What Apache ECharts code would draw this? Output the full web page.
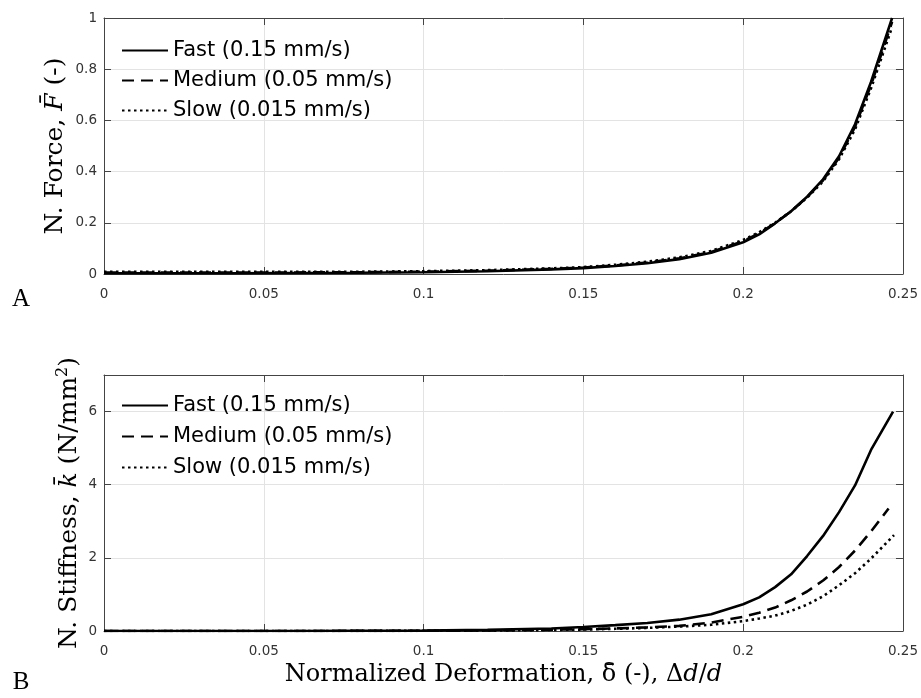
<!DOCTYPE html>
<html>
<head>
<meta charset="utf-8">
<script src="https://cdn.jsdelivr.net/npm/echarts@6/dist/echarts.min.js"></script>
<style>html,body{margin:0;padding:0;background:#fff}#c{width:921px;height:698px}</style>
</head>
<body>
<div id="c"></div>
<script>
// ---------- DATA ----------
const seriesNames = ['Fast (0.15 mm/s)', 'Medium (0.05 mm/s)', 'Slow (0.015 mm/s)'];
const xTicks = [0, 0.05, 0.1, 0.15, 0.2, 0.25];
const forceTicks = [0, 0.2, 0.4, 0.6, 0.8, 1];
const stiffTicks = [0, 2, 4, 6];

// Panel A: normalized force
const forceX = [0, 0.02, 0.04, 0.06, 0.08, 0.1, 0.12, 0.14, 0.15, 0.16, 0.17, 0.18, 0.19, 0.2, 0.205, 0.21, 0.215, 0.22, 0.225, 0.23, 0.235, 0.24, 0.2466];
const forceFast = [0.003, 0.003, 0.003, 0.004, 0.005, 0.007, 0.011, 0.018, 0.023, 0.031, 0.042, 0.058, 0.083, 0.124, 0.155, 0.198, 0.245, 0.302, 0.37, 0.46, 0.585, 0.75, 1.0];
const forceMedium = [0.006, 0.006, 0.006, 0.006, 0.007, 0.009, 0.013, 0.02, 0.025, 0.033, 0.045, 0.061, 0.086, 0.128, 0.159, 0.199, 0.245, 0.3, 0.366, 0.454, 0.575, 0.738, 0.985];
const forceSlow = [0.009, 0.009, 0.009, 0.009, 0.009, 0.011, 0.015, 0.022, 0.027, 0.036, 0.048, 0.065, 0.09, 0.133, 0.163, 0.2, 0.245, 0.298, 0.362, 0.448, 0.565, 0.725, 0.965];

// Panel B: normalized stiffness
const stiffXFast = [0, 0.02, 0.04, 0.06, 0.08, 0.1, 0.12, 0.14, 0.15, 0.16, 0.17, 0.18, 0.19, 0.2, 0.205, 0.21, 0.215, 0.22, 0.225, 0.23, 0.235, 0.24, 0.2469];
const stiffFast = [0, 0, 0, 0, 0.005, 0.01, 0.03, 0.07, 0.11, 0.16, 0.22, 0.31, 0.46, 0.73, 0.92, 1.2, 1.55, 2.05, 2.6, 3.25, 3.98, 4.95, 6.0];
const stiffXMedium = [0, 0.02, 0.04, 0.06, 0.08, 0.1, 0.12, 0.14, 0.15, 0.16, 0.17, 0.18, 0.19, 0.2, 0.205, 0.21, 0.215, 0.22, 0.225, 0.23, 0.235, 0.24, 0.2455];
const stiffMedium = [0, 0, 0, 0, 0.003, 0.006, 0.015, 0.035, 0.05, 0.07, 0.1, 0.14, 0.23, 0.39, 0.5, 0.64, 0.84, 1.08, 1.38, 1.75, 2.2, 2.72, 3.35];
const stiffXSlow = [0, 0.02, 0.04, 0.06, 0.08, 0.1, 0.12, 0.14, 0.15, 0.16, 0.17, 0.18, 0.19, 0.2, 0.205, 0.21, 0.215, 0.22, 0.225, 0.23, 0.235, 0.24, 0.2472];
const stiffSlow = [0, 0, 0, 0, 0.003, 0.005, 0.012, 0.028, 0.04, 0.06, 0.085, 0.12, 0.17, 0.27, 0.34, 0.42, 0.55, 0.72, 0.95, 1.25, 1.58, 1.98, 2.62];

// ---------- CHART ----------
const pair = (xs, ys) => xs.map((x, i) => [x, ys[i]]);
const fmt = v => String(+(+v).toFixed(3));
const tickFont = { fontFamily: 'DejaVu Sans', fontSize: 13.5, color: '#333' };
const serif = 'DejaVu Serif';
const richFor = size => ({
  i: { fontFamily: serif, fontStyle: 'italic', fontSize: size, color: '#000' },
  u: { fontFamily: serif, fontSize: size, color: '#000' },
  sup: { fontFamily: serif, fontSize: Math.round(size * 0.62), color: '#000', padding: [0, 0, 13, 0] }
});
const lineTypes = ['solid', [12, 7], [2.5, 3.5]];
const gridLine = { show: true, lineStyle: { color: '#e3e3e3', width: 1 } };

function mainX(gi, name) {
  return {
    type: 'value', gridIndex: gi, min: 0, max: 0.25, interval: 0.05, position: 'bottom',
    axisLine: { show: true, onZero: false, lineStyle: { color: '#444', width: 1 } },
    axisTick: { show: true, inside: true, length: 7, lineStyle: { color: '#444' } },
    axisLabel: Object.assign({ margin: 13, formatter: fmt }, tickFont),
    splitLine: gridLine,
    name: name || '', nameLocation: 'middle', nameGap: 32, nameMoveOverlap: false,
    nameTextStyle: { fontFamily: serif, fontSize: 24, color: '#000', rich: richFor(24) }
  };
}
function topX(gi) {
  return {
    type: 'value', gridIndex: gi, min: 0, max: 0.25, interval: 0.05, position: 'top',
    axisLine: { show: true, onZero: false, lineStyle: { color: '#444' } },
    axisTick: { show: true, inside: true, length: 7, lineStyle: { color: '#444' } },
    axisLabel: { show: false }, splitLine: { show: false }
  };
}
function mainY(gi, max, interval, name, gap) {
  return {
    type: 'value', gridIndex: gi, min: 0, max: max, interval: interval, position: 'left',
    axisLine: { show: true, onZero: false, lineStyle: { color: '#444' } },
    axisTick: { show: true, inside: true, length: 7, lineStyle: { color: '#444' } },
    axisLabel: Object.assign({ margin: 7, formatter: fmt, showMaxLabel: max !== 7 }, tickFont),
    splitLine: gridLine,
    name: name, nameLocation: 'middle', nameGap: gap, nameRotate: 90, nameMoveOverlap: false,
    nameTextStyle: { fontFamily: serif, fontSize: 25, color: '#000', rich: richFor(25) }
  };
}
function rightY(gi, max, interval) {
  return {
    type: 'value', gridIndex: gi, min: 0, max: max, interval: interval, position: 'right',
    axisLine: { show: true, onZero: false, lineStyle: { color: '#444' } },
    axisTick: { show: true, inside: true, length: 7, lineStyle: { color: '#444' } },
    axisLabel: { show: false }, splitLine: { show: false }
  };
}
function mkSeries(idx, xi, yi, data) {
  return {
    type: 'line', name: seriesNames[idx], xAxisIndex: xi, yAxisIndex: yi,
    data: data, symbol: 'none', smooth: false, clip: true, animation: false,
    lineStyle: { color: '#000', width: 2.6, type: lineTypes[idx] },
    itemStyle: { color: '#000' }
  };
}
function mkLegend(top, gap) {
  return {
    data: seriesNames, orient: 'vertical', left: 121, top: top, padding: 0,
    itemWidth: 46, itemHeight: 20, itemGap: gap,
    itemStyle: { opacity: 0, color: 'rgba(0,0,0,0)', borderWidth: 0 },
    textStyle: { fontFamily: 'DejaVu Sans', fontSize: 21, color: '#000', lineHeight: 20 },
    selectedMode: false
  };
}

const chart = echarts.init(document.getElementById('c'), null, { renderer: 'canvas' });
chart.setOption({
  animation: false,
  backgroundColor: '#fff',
  grid: [
    { left: 104, right: 17, top: 18, height: 256 },
    { left: 104, right: 17, top: 375, height: 256 }
  ],
  xAxis: [mainX(0, ''), topX(0), mainX(1, 'Normalized Deformation, {u|δ̄} (-), Δ{i|d}/{i|d}'), topX(1)],
  yAxis: [
    mainY(0, 1, 0.2, 'N. Force, {i|F̄} (-)', 36), rightY(0, 1, 0.2),
    mainY(1, 7, 2, 'N. Stiffness, {i|k̄} (N/mm{sup|2})', 20), rightY(1, 7, 2)
  ],
  legend: [mkLegend(40, 9), mkLegend(395, 10)],
  series: [
    mkSeries(0, 0, 0, pair(forceX, forceFast)),
    mkSeries(1, 0, 0, pair(forceX, forceMedium)),
    mkSeries(2, 0, 0, pair(forceX, forceSlow)),
    mkSeries(0, 2, 2, pair(stiffXFast, stiffFast)),
    mkSeries(1, 2, 2, pair(stiffXMedium, stiffMedium)),
    mkSeries(2, 2, 2, pair(stiffXSlow, stiffSlow))
  ],
  graphic: [
    { type: 'text', x: 21, y: 299, style: { text: 'A', font: '25px "Liberation Serif"', fill: '#000', align: 'center', verticalAlign: 'middle' } },
    { type: 'text', x: 21, y: 682, style: { text: 'B', font: '25px "Liberation Serif"', fill: '#000', align: 'center', verticalAlign: 'middle' } }
  ]
});
</script>
</body>
</html>
